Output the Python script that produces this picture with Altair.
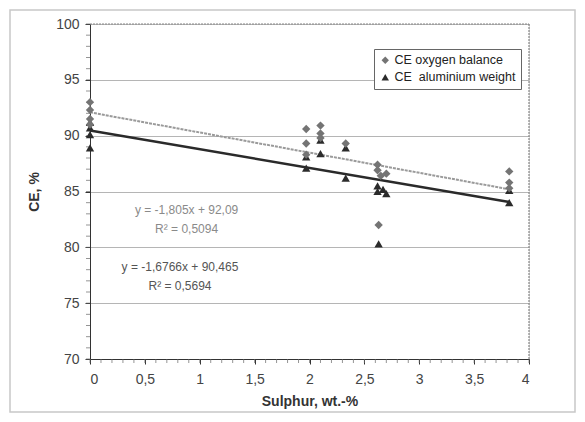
import altair as alt
import pandas as pd

# ---- data ----
ox_x = [0, 0, 0, 0, 1.97, 1.97, 1.97, 2.1, 2.1, 2.1, 2.33, 2.62, 2.62, 2.65, 2.7, 2.63, 3.82, 3.82, 3.82]
ox_y = [93.0, 92.3, 91.5, 91.0, 90.6, 89.3, 88.3, 90.9, 90.2, 89.8, 89.3, 87.4, 86.9, 86.4, 86.6, 82.0, 86.8, 85.8, 85.3]
al_x = [0, 0, 0, 0, 1.97, 1.97, 2.1, 2.1, 2.33, 2.33, 2.62, 2.62, 2.67, 2.7, 2.63, 3.82, 3.82]
al_y = [91.2, 90.7, 90.1, 88.9, 88.1, 87.1, 89.6, 88.4, 88.9, 86.2, 85.5, 85.0, 85.2, 84.8, 80.3, 85.1, 84.0]

series = ["CE oxygen balance", "CE\u00a0 aluminium weight"]
fit_slope = [-1.805, -1.6766]
fit_icpt = [92.09, 90.465]
fit_x = [0, 3.82]
eq_text = ["y = -1,805x + 92,09", "R² = 0,5094", "y = -1,6766x + 90,465", "R² = 0,5694"]
eq_x = [0.88, 0.88, 0.82, 0.82]
eq_y = [83.3, 81.6, 78.2, 76.5]
eq_col = ["#8a8a8a", "#8a8a8a", "#555555", "#555555"]

x_ticks = [0, 0.5, 1, 1.5, 2, 2.5, 3, 3.5, 4]
y_ticks = [70, 75, 80, 85, 90, 95, 100]
x_minor = [i / 10 for i in range(0, 41)]
y_minor = list(range(70, 101))

pts = pd.DataFrame(
    {"x": ox_x + al_x, "y": ox_y + al_y,
     "s": [series[0]] * len(ox_x) + [series[1]] * len(al_x)}
)
lines = pd.DataFrame(
    {"x": fit_x * 2,
     "y": [fit_icpt[0] + fit_slope[0] * v for v in fit_x] + [fit_icpt[1] + fit_slope[1] * v for v in fit_x],
     "s": [series[0]] * 2 + [series[1]] * 2}
)
eqs = pd.DataFrame({"x": eq_x, "y": eq_y, "t": eq_text, "c": eq_col})

xs = alt.Scale(domain=[0, 4], nice=False, zero=False)
ys = alt.Scale(domain=[70, 100], nice=False, zero=False)

FONT = "Liberation Sans"
xax = alt.Axis(values=x_ticks, labelExpr="replace(format(datum.value, '~g'), '.', ',')", title="Sulphur, wt.-%",
               grid=False, domainColor="#333", tickColor="#333", tickSize=5, labelPadding=8,
               labelFontSize=14, labelColor="#444", titleFontSize=14, titleColor="#333",
               titlePadding=8, titleFontWeight="bold", labelFont=FONT, titleFont=FONT)
yax = alt.Axis(values=y_ticks, title="CE, %", grid=True, gridColor="#b5b5b5", gridWidth=1.2,
               domainColor="#333", tickColor="#333", tickSize=5, labelPadding=6,
               labelFontSize=14, labelColor="#444", titleFontSize=14, titleColor="#333",
               titlePadding=14, titleFontWeight="bold", labelFont=FONT, titleFont=FONT)

one = pd.DataFrame({"a": [0]})
frame = alt.Chart(one).mark_rect(
    fill="transparent", stroke="#c8c8c8", strokeWidth=1.5
).encode(x=alt.value(-80), x2=alt.value(485), y=alt.value(-14), y2=alt.value(388))

topline = alt.Chart(one).mark_rule(
    color="#888", strokeDash=[2, 1], strokeWidth=1.2
).encode(x=alt.value(0), x2=alt.value(439), y=alt.value(0))
rightline = alt.Chart(one).mark_rule(
    color="#888", strokeDash=[2, 1], strokeWidth=1.2
).encode(x=alt.value(439), y=alt.value(0), y2=alt.value(335))

xminor = alt.Chart(pd.DataFrame({"x": x_minor})).mark_tick(
    orient="vertical", size=4, thickness=1, color="#666"
).encode(x=alt.X("x:Q", scale=xs, axis=xax), y=alt.value(337))
yminor = alt.Chart(pd.DataFrame({"y": y_minor})).mark_tick(
    orient="horizontal", size=4, thickness=1, color="#666"
).encode(y=alt.Y("y:Q", scale=ys, axis=yax), x=alt.value(-2))

line_ox = alt.Chart(lines[lines.s == series[0]]).mark_line(
    color="#9a9a9a", strokeWidth=2, strokeDash=[3, 1]
).encode(x=alt.X("x:Q", scale=xs, axis=xax), y=alt.Y("y:Q", scale=ys, axis=yax))
line_al = alt.Chart(lines[lines.s == series[1]]).mark_line(
    color="#2a2a2a", strokeWidth=2.5
).encode(x=alt.X("x:Q", scale=xs, axis=xax), y=alt.Y("y:Q", scale=ys, axis=yax))

leg = alt.Legend(title=None, orient="none", legendX=284, legendY=25,
                 strokeColor="#666", fillColor="white", padding=5,
                 labelFontSize=12.5, labelColor="#222", labelFont=FONT,
                 symbolSize=55, rowPadding=4, symbolOffset=0, labelOffset=3)
points = alt.Chart(pts).mark_point(filled=True, size=70, opacity=1).encode(
    x=alt.X("x:Q", scale=xs, axis=xax),
    y=alt.Y("y:Q", scale=ys, axis=yax),
    shape=alt.Shape("s:N", scale=alt.Scale(domain=series, range=["diamond", "triangle-up"]), legend=leg),
    color=alt.Color("s:N", scale=alt.Scale(domain=series, range=["#747474", "#2b2b2b"]), legend=leg),
    order=alt.Order("s:N", sort="descending"),
)

texts = alt.Chart(eqs).mark_text(fontSize=12, font=FONT, align="center").encode(
    x=alt.X("x:Q", scale=xs, axis=xax), y=alt.Y("y:Q", scale=ys, axis=yax), text="t:N",
    color=alt.Color("c:N", scale=None),
)

chart = alt.layer(frame, topline, rightline, line_ox, line_al, xminor, yminor, points, texts).properties(
    width=439, height=335,
    autosize=alt.AutoSizeParams(type="none"),
    padding={"left": 82, "top": 16, "right": 48, "bottom": 55},
).configure_view(stroke=None).configure(background="white")

chart.save("out.html", embed_options={"renderer": "svg", "actions": False})
